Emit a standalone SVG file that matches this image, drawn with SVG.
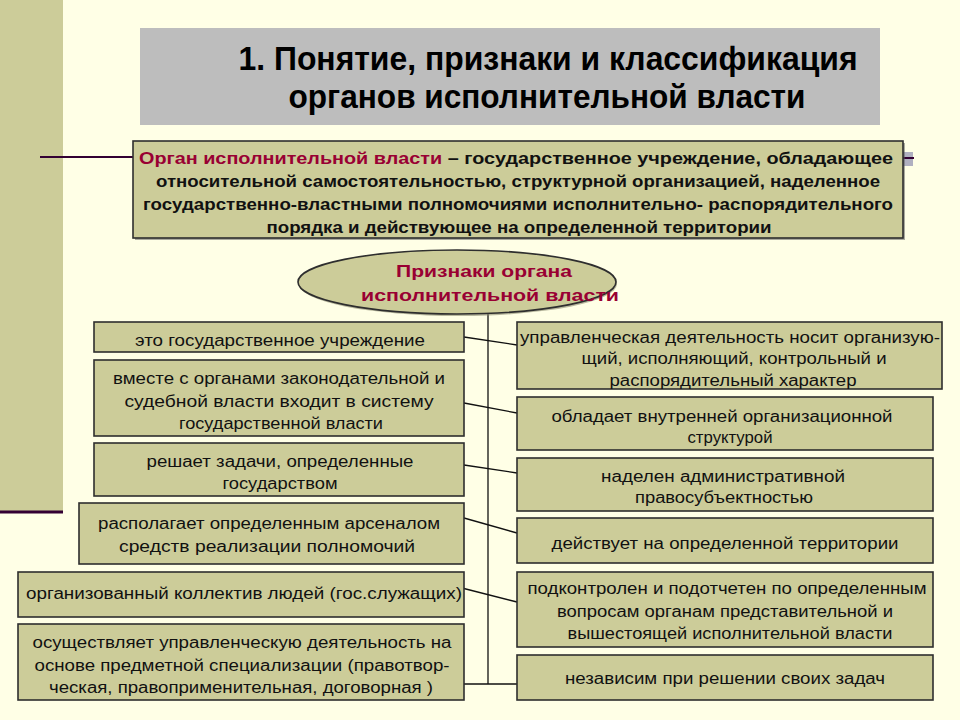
<svg xmlns="http://www.w3.org/2000/svg" width="960" height="720" viewBox="0 0 960 720">
<defs>
<style>
.bg{fill:#FFFFE6}
.band{fill:#CCCC99}
.box{fill:#CCCC99;stroke:#2E2E2E;stroke-width:1.6}
.t{font-family:"Liberation Sans",Arial,sans-serif;font-size:16px;fill:#111;text-anchor:middle}
.d{font-family:"Liberation Sans Narrow","Liberation Sans",Arial,sans-serif;font-size:16px;font-weight:bold;fill:#111;text-anchor:middle}
.h{font-family:"Liberation Sans Narrow","Liberation Sans",Arial,sans-serif;font-size:33px;font-weight:bold;fill:#000;text-anchor:middle}
.e{font-family:"Liberation Sans",Arial,sans-serif;font-size:17px;font-weight:bold;fill:#990033;text-anchor:middle}
.red{fill:#990033}
.c{stroke:#111;stroke-width:1.3;fill:none}
</style>
</defs>
<rect class="bg" x="0" y="0" width="960" height="720"/>
<rect class="band" x="0" y="0" width="63" height="512"/>
<line x1="0" y1="512" x2="63" y2="512" stroke="#330033" stroke-width="3"/>
<line x1="40" y1="157" x2="134" y2="157" stroke="#330033" stroke-width="2"/>
<rect x="903" y="152" width="10" height="14" fill="#B0B0C0"/>
<line x1="903" y1="158" x2="914" y2="158" stroke="#330033" stroke-width="2"/>

<g id="title">
<rect x="140" y="28" width="740" height="97" fill="#BDBDBD"/>
<text class="h" x="548" y="70" textLength="619" lengthAdjust="spacingAndGlyphs">1. Понятие, признаки и классификация</text>
<text class="h" x="547" y="108" textLength="517" lengthAdjust="spacingAndGlyphs">органов исполнительной власти</text>
</g>

<g id="definition">
<rect x="135" y="143" width="770" height="97" fill="#555" opacity="0.5"/>
<rect class="box" x="133" y="141" width="770" height="97"/>
<text class="d" x="516" y="164" textLength="754" lengthAdjust="spacingAndGlyphs"><tspan class="red">Орган исполнительной власти</tspan> – государственное учреждение, обладающее</text>
<text class="d" x="518" y="187" textLength="724" lengthAdjust="spacingAndGlyphs">относительной самостоятельностью, структурной организацией, наделенное</text>
<text class="d" x="518" y="210" textLength="750" lengthAdjust="spacingAndGlyphs">государственно-властными полномочиями исполнительно- распорядительного</text>
<text class="d" x="519" y="233" textLength="505" lengthAdjust="spacingAndGlyphs">порядка и действующее на определенной территории</text>
</g>

<g id="connectors">
<line class="c" x1="488" y1="312" x2="488" y2="684"/>
<line class="c" x1="464" y1="337" x2="517" y2="345"/>
<line class="c" x1="464" y1="403" x2="517" y2="413"/>
<line class="c" x1="464" y1="465" x2="517" y2="473"/>
<line class="c" x1="464" y1="518" x2="517" y2="533"/>
<line class="c" x1="458" y1="587" x2="517" y2="602"/>
<line class="c" x1="464" y1="684" x2="517" y2="684"/>
</g>

<g id="signs">
<ellipse cx="458" cy="284" rx="159" ry="32" fill="#8A8A70" opacity="0.6"/>
<ellipse cx="457" cy="282" rx="159" ry="32" fill="#CCCC99" stroke="#2E2E2E" stroke-width="1.6"/>
<text class="e" x="484" y="277" textLength="176" lengthAdjust="spacingAndGlyphs">Признаки органа</text>
<text class="e" x="490" y="301" textLength="258" lengthAdjust="spacingAndGlyphs">исполнительной власти</text>
</g>

<g id="l1">
<rect class="box" x="94" y="322" width="370" height="30"/>
<text class="t" x="280" y="346" textLength="290" lengthAdjust="spacingAndGlyphs">это государственное учреждение</text>
</g>
<g id="l2">
<rect class="box" x="94" y="360" width="370" height="76"/>
<text class="t" x="279" y="384" textLength="332" lengthAdjust="spacingAndGlyphs">вместе с органами законодательной и</text>
<text class="t" x="279" y="407" textLength="309" lengthAdjust="spacingAndGlyphs">судебной власти входит в систему</text>
<text class="t" x="281" y="429" textLength="204" lengthAdjust="spacingAndGlyphs">государственной власти</text>
</g>
<g id="l3">
<rect class="box" x="94" y="443" width="370" height="53"/>
<text class="t" x="280" y="467" textLength="267" lengthAdjust="spacingAndGlyphs">решает задачи, определенные</text>
<text class="t" x="280" y="489" textLength="115" lengthAdjust="spacingAndGlyphs">государством</text>
</g>
<g id="l4">
<rect class="box" x="79" y="503" width="385" height="61"/>
<text class="t" x="269" y="529" textLength="342" lengthAdjust="spacingAndGlyphs">располагает определенным арсеналом</text>
<text class="t" x="267" y="552" textLength="296" lengthAdjust="spacingAndGlyphs">средств реализации полномочий</text>
</g>
<g id="l5">
<rect class="box" x="18" y="572" width="446" height="45"/>
<text class="t" x="244" y="599" textLength="436" lengthAdjust="spacingAndGlyphs">организованный коллектив людей (гос.служащих)</text>
</g>
<g id="l6">
<rect class="box" x="18" y="624" width="446" height="76"/>
<text class="t" x="242" y="648" textLength="419" lengthAdjust="spacingAndGlyphs">осуществляет управленческую деятельность на</text>
<text class="t" x="242" y="671" textLength="415" lengthAdjust="spacingAndGlyphs">основе предметной специализации (правотвор-</text>
<text class="t" x="241" y="693" textLength="384" lengthAdjust="spacingAndGlyphs">ческая, правоприменительная, договорная )</text>
</g>

<g id="r1">
<rect class="box" x="517" y="322" width="425" height="67"/>
<text class="t" x="730" y="343" textLength="420" lengthAdjust="spacingAndGlyphs">управленческая деятельность носит организую-</text>
<text class="t" x="734" y="364" textLength="305" lengthAdjust="spacingAndGlyphs">щий, исполняющий, контрольный и</text>
<text class="t" x="733" y="386" textLength="247" lengthAdjust="spacingAndGlyphs">распорядительный характер</text>
</g>
<g id="r2">
<rect class="box" x="517" y="397" width="416" height="53"/>
<text class="t" x="722" y="422" textLength="341" lengthAdjust="spacingAndGlyphs">обладает внутренней организационной</text>
<text class="t" x="730" y="443" textLength="85" lengthAdjust="spacingAndGlyphs">структурой</text>
</g>
<g id="r3">
<rect class="box" x="517" y="458" width="416" height="53"/>
<text class="t" x="723" y="482" textLength="244" lengthAdjust="spacingAndGlyphs">наделен административной</text>
<text class="t" x="724" y="503" textLength="178" lengthAdjust="spacingAndGlyphs">правосубъектностью</text>
</g>
<g id="r4">
<rect class="box" x="517" y="518" width="416" height="45"/>
<text class="t" x="725" y="549" textLength="347" lengthAdjust="spacingAndGlyphs">действует на определенной территории</text>
</g>
<g id="r5">
<rect class="box" x="517" y="572" width="416" height="75"/>
<text class="t" x="727" y="594" textLength="399" lengthAdjust="spacingAndGlyphs">подконтролен и подотчетен по определенным</text>
<text class="t" x="725" y="617" textLength="336" lengthAdjust="spacingAndGlyphs">вопросам органам представительной и</text>
<text class="t" x="730" y="639" textLength="325" lengthAdjust="spacingAndGlyphs">вышестоящей исполнительной власти</text>
</g>
<g id="r6">
<rect class="box" x="517" y="655" width="416" height="45"/>
<text class="t" x="725" y="684" textLength="320" lengthAdjust="spacingAndGlyphs">независим при решении своих задач</text>
</g>
</svg>
